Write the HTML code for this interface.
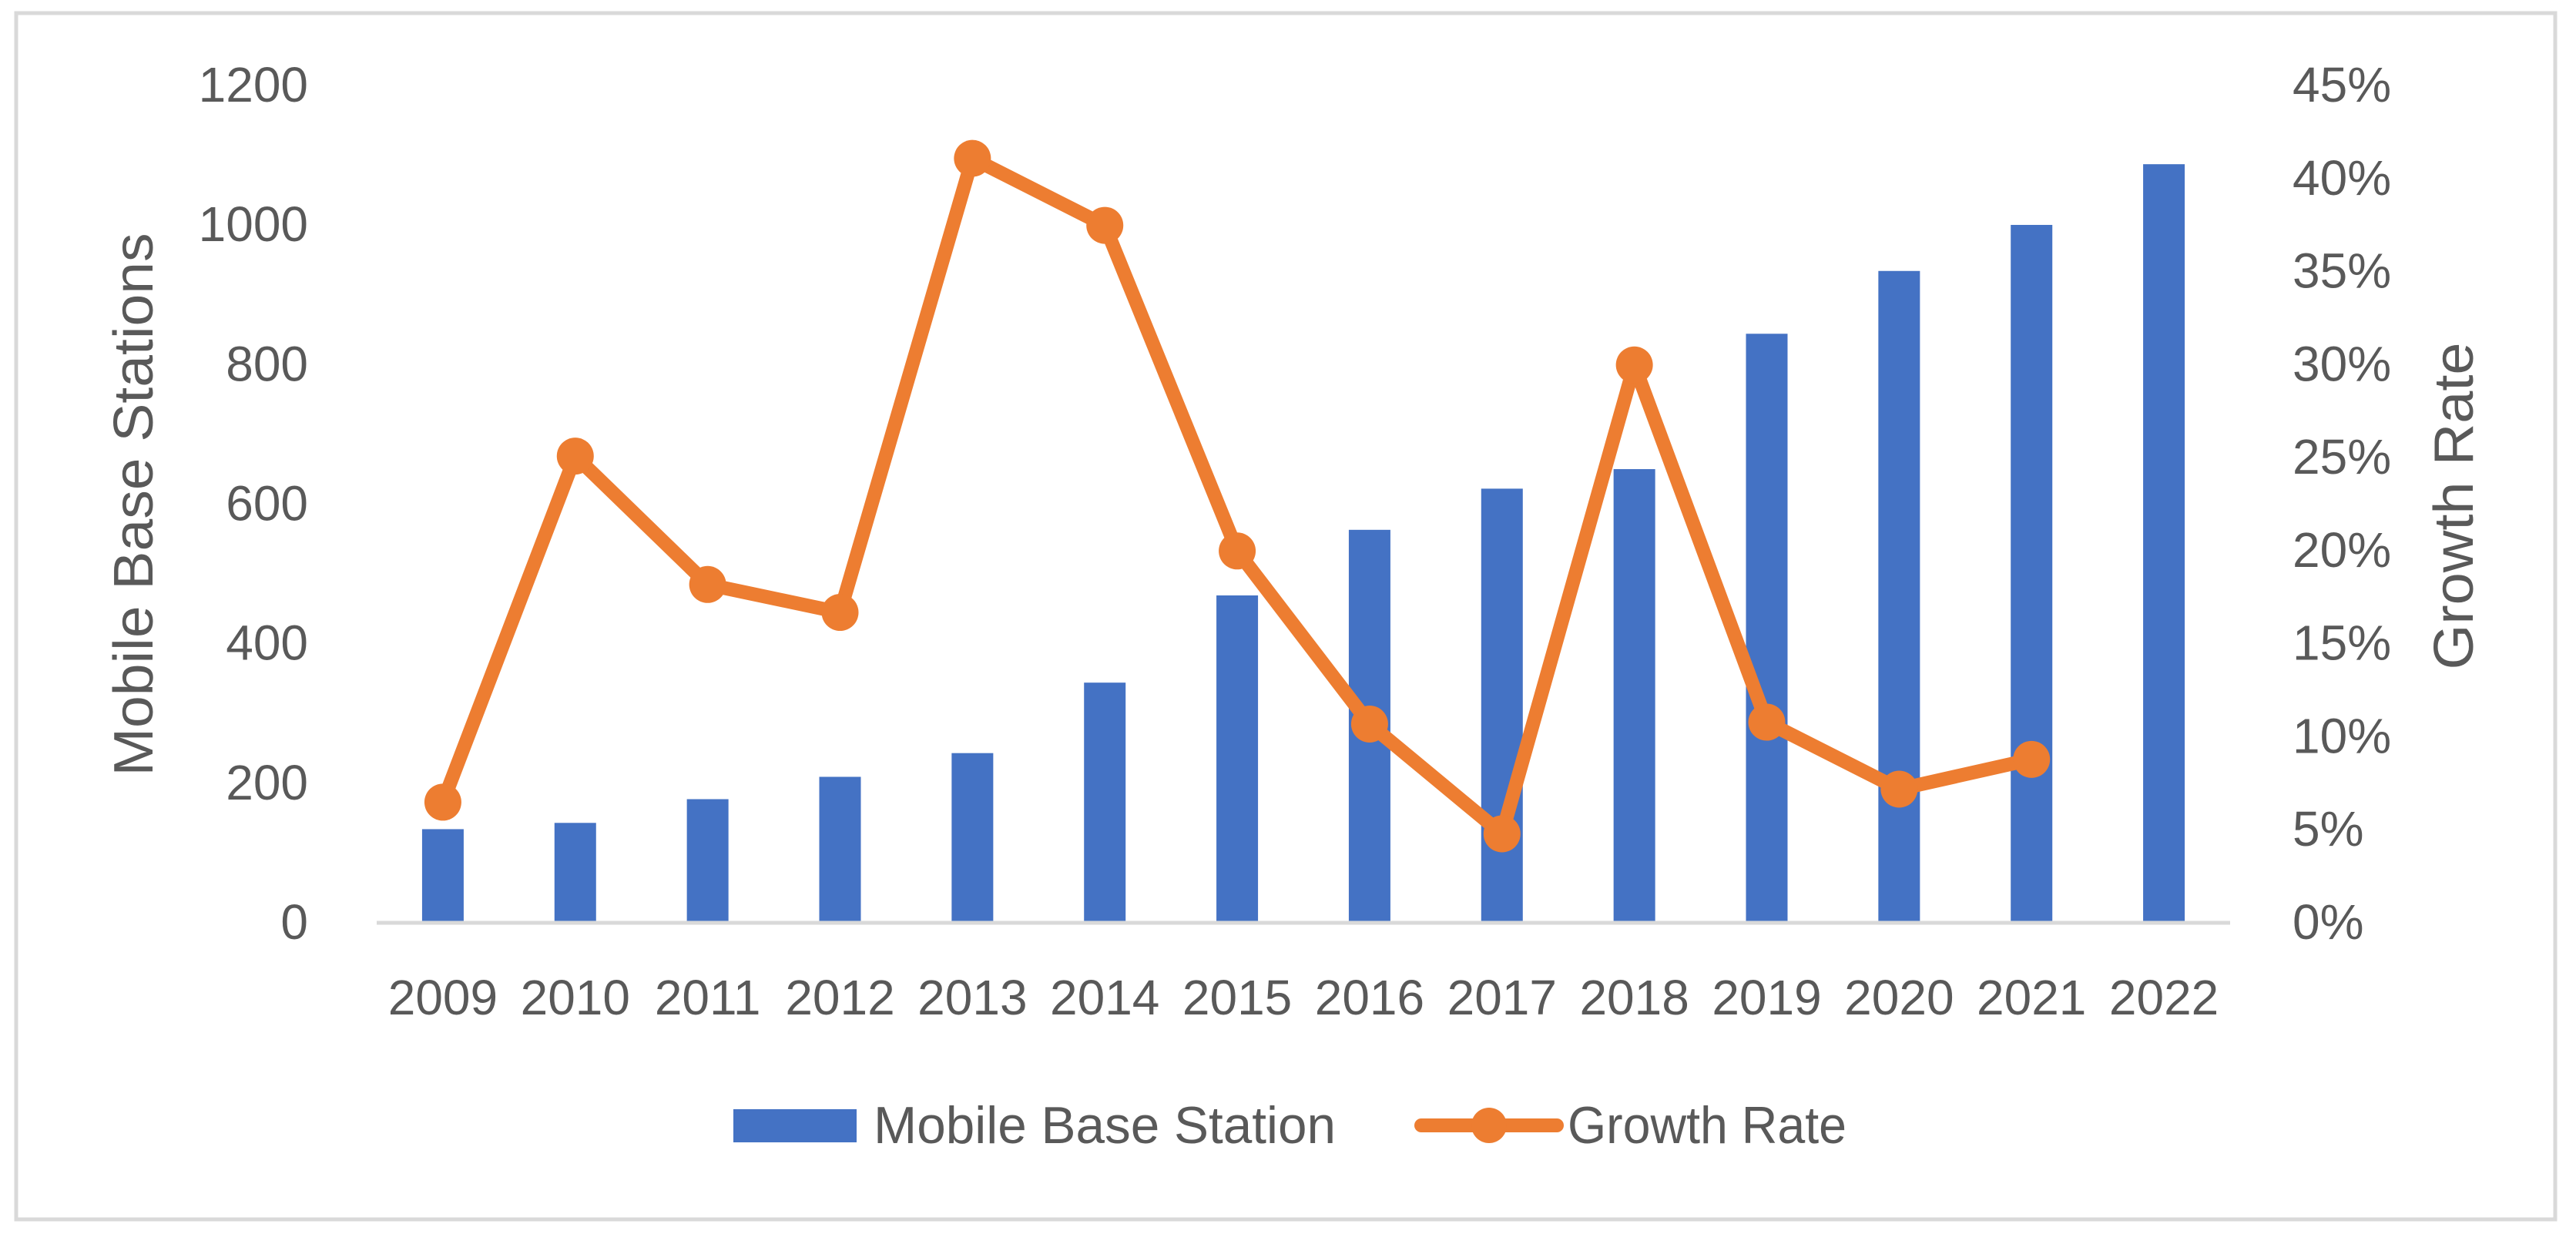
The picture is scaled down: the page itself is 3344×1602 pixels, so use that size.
<!DOCTYPE html>
<html><head><meta charset="utf-8"><style>
html,body{margin:0;padding:0;background:#fff;}
svg{display:block;}
text{font-family:"Liberation Sans",sans-serif;fill:#595959;}
</style></head><body>
<svg id="chart" width="3344" height="1602" viewBox="0 0 3344 1602" xmlns="http://www.w3.org/2000/svg">
<rect x="21" y="17" width="3296" height="1566" fill="#fff" stroke="#d9d9d9" stroke-width="5"/>
<g id="plot"></g>
<text transform="translate(198,655) rotate(-90)" text-anchor="middle" font-size="72" textLength="705" lengthAdjust="spacingAndGlyphs">Mobile Base Stations</text>
<text transform="translate(3210,657) rotate(-90)" text-anchor="middle" font-size="72" textLength="425" lengthAdjust="spacingAndGlyphs">Growth Rate</text>
<g>
<g>
<rect x="952" y="1440" width="160" height="43" fill="#4472c4"/>
<text x="1134" y="1484" font-size="68" textLength="600" lengthAdjust="spacingAndGlyphs">Mobile Base Station</text>
</g>
<g>
<line x1="1845" y1="1461" x2="2021" y2="1461" stroke="#ed7d31" stroke-width="18" stroke-linecap="round"/>
<circle cx="1933" cy="1461" r="23" fill="#ed7d31"/>
<text x="2035" y="1484" font-size="68" textLength="362" lengthAdjust="spacingAndGlyphs">Growth Rate</text>
</g>
</g>
</svg>
<script>
const categories = ["2009","2010","2011","2012","2013","2014","2015","2016","2017","2018","2019","2020","2021","2022"];
const stations = [132,141,175,207,241,342,467,561,620,648,842,932,998,1085];
const growth = [6.4,25.0,18.1,16.6,41.0,37.4,19.9,10.6,4.7,29.9,10.7,7.1,8.7,null];
const leftTicks = [0,200,400,600,800,1000,1200];
const rightTicks = [0,5,10,15,20,25,30,35,40,45];

const NS = "http://www.w3.org/2000/svg";
const X0 = 489, X1 = 2895, Y0 = 1196, Y1 = 109;
const step = (X1 - X0) / categories.length;
const xC = i => X0 + step * (i + 0.5);
const yL = v => Y0 - (v / 1200) * (Y0 - Y1);
const yR = v => Y0 - (v / 45) * (Y0 - Y1);
const g = document.getElementById('plot');
function mk(tag, attrs){ const e = document.createElementNS(NS, tag); for (const k in attrs) e.setAttribute(k, attrs[k]); g.appendChild(e); return e; }

leftTicks.forEach(t => {
  const e = mk('text', {x: 400, y: yL(t) + 23, 'text-anchor': 'end', 'font-size': 64});
  
  
  e.textContent = t;
});
rightTicks.forEach(t => {
  const e = mk('text', {x: 2976, y: yR(t) + 23, 'text-anchor': 'start', 'font-size': 64});
  
  
  e.textContent = t + '%';
});
const bw = 54;
stations.forEach((v, i) => {
  const r = mk('rect', {x: xC(i) - bw / 2, y: yL(v), width: bw, height: Y0 - yL(v), fill: '#4472c4'});
  
  
});
const ax = mk('line', {x1: X0, y1: Y0 + 2, x2: X1, y2: Y0 + 2, stroke: '#d9d9d9', 'stroke-width': 5});


categories.forEach((c, i) => {
  const e = mk('text', {x: xC(i), y: 1317, 'text-anchor': 'middle', 'font-size': 64});
  
  
  e.textContent = c;
});
const pts = [];
growth.forEach((v, i) => { if (v !== null) pts.push([xC(i), yR(v)]); });
const pl = mk('polyline', {points: pts.map(p => p.join(',')).join(' '), fill: 'none', stroke: '#ed7d31', 'stroke-width': 18, 'stroke-linejoin': 'round', 'stroke-linecap': 'round'});


growth.forEach((v, i) => {
  if (v === null) return;
  const c = mk('circle', {cx: xC(i), cy: yR(v), r: 24, fill: '#ed7d31'});
  
  
});
</script>
</body></html>
